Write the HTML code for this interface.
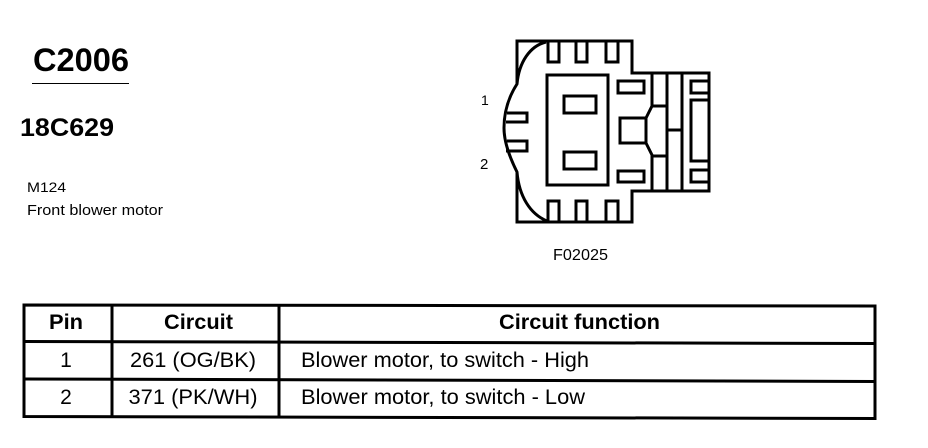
<!DOCTYPE html>
<html>
<head>
<meta charset="utf-8">
<style>
html,body{margin:0;padding:0;background:#fff;}
body{width:928px;height:448px;overflow:hidden;}
svg{display:block;}
text{font-family:"Liberation Sans",sans-serif;fill:#000;}
.b{font-weight:bold;}
</style>
</head>
<body>
<svg width="928" height="448" viewBox="0 0 928 448" xmlns="http://www.w3.org/2000/svg">
<rect width="928" height="448" fill="#fff"/>
<text x="33" y="71" class="b" font-size="32" textLength="96" lengthAdjust="spacingAndGlyphs">C2006</text>
<line x1="32" y1="83.5" x2="129" y2="83.5" stroke="#000" stroke-width="1"/>
<text x="20" y="136" class="b" font-size="25" textLength="94" lengthAdjust="spacingAndGlyphs">18C629</text>
<text x="27" y="192" font-size="14" textLength="39" lengthAdjust="spacingAndGlyphs">M124</text>
<text x="27" y="215" font-size="15" textLength="136" lengthAdjust="spacingAndGlyphs">Front blower motor</text>
<text x="481" y="105" font-size="14">1</text>
<text x="480" y="169" font-size="15">2</text>
<text x="553" y="260" font-size="15.5" textLength="55" lengthAdjust="spacingAndGlyphs">F02025</text>

<g fill="none" stroke="#000" stroke-width="3">
<path d="M517 84V41H632V73H709V191H632V222H517V172"/>
<path d="M546 42C530 46 519 62 517 84C508 98 504 113 504 128C504 143 510 158 517 172C519 196 530 214 547 221"/>
<path d="M548 41V62H559V41M576 41V62H587V41M606 41V62H618V41"/>
<path d="M548 222V201H559V222M576 222V201H587V222M606 222V201H618V222"/>
<rect x="547" y="75" width="61" height="110"/>
<rect x="564" y="96" width="32" height="17"/>
<rect x="564" y="152" width="32" height="17"/>
<rect x="618" y="81" width="26" height="12"/>
<rect x="618" y="171" width="26" height="11"/>
<path d="M507 113H527V122H506M507 141H527V151H506"/>
<path d="M646 118H620V143H646V118Z"/>
<path d="M652 73V106L646 118M646 143L652 155V191"/>
<path d="M652 106H667M652 156H667"/>
<path d="M667 73V191M682 73V191M667 130H682"/>
<path d="M709 81H691V93H709M709 100H691V161H709M709 170H691V182H709"/>
</g>

<g fill="none" stroke="#000" stroke-width="3">
<path d="M24 305L875 306V418.5L24 416.5Z"/>
<line x1="112" y1="305" x2="112" y2="417"/>
<line x1="279" y1="305" x2="279" y2="417"/>
<line x1="24" y1="341.5" x2="875" y2="343.5"/>
<line x1="24" y1="379" x2="875" y2="381.5"/>
</g>
<text x="66" y="329" class="b" font-size="21" text-anchor="middle" textLength="34" lengthAdjust="spacingAndGlyphs">Pin</text>
<text x="198.5" y="329" class="b" font-size="21" text-anchor="middle" textLength="69" lengthAdjust="spacingAndGlyphs">Circuit</text>
<text x="579.5" y="329" class="b" font-size="21" text-anchor="middle" textLength="161" lengthAdjust="spacingAndGlyphs">Circuit function</text>
<text x="66" y="367" font-size="21" text-anchor="middle">1</text>
<text x="193" y="367" font-size="21.5" text-anchor="middle" textLength="126" lengthAdjust="spacingAndGlyphs">261 (OG/BK)</text>
<text x="301" y="367" font-size="21.5" textLength="288" lengthAdjust="spacingAndGlyphs">Blower motor, to switch - High</text>
<text x="66" y="404" font-size="21" text-anchor="middle">2</text>
<text x="193" y="404" font-size="21.5" text-anchor="middle" textLength="129" lengthAdjust="spacingAndGlyphs">371 (PK/WH)</text>
<text x="301" y="404" font-size="21.5" textLength="284" lengthAdjust="spacingAndGlyphs">Blower motor, to switch - Low</text>
</svg>
</body>
</html>
